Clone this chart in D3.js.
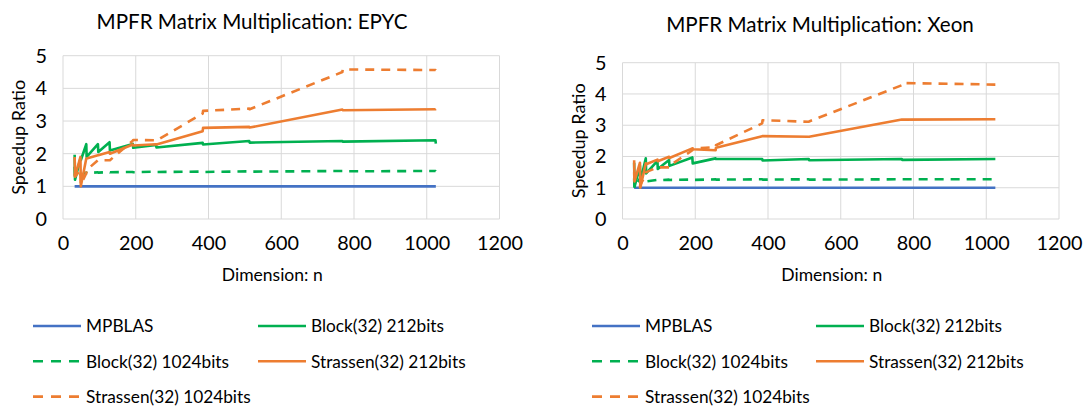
<!DOCTYPE html>
<html><head><meta charset="utf-8">
<script src="https://cdn.jsdelivr.net/npm/d3@7"></script>
<style>body{margin:0;background:#fff;} svg{display:block;}</style>
</head><body>
<svg id="c" width="1083" height="408"></svg>
<script>
const dims = [32, 33, 48, 49, 64, 65, 96, 97, 128, 129, 192, 193, 256, 257, 384, 385, 512, 513, 768, 769, 1024, 1025];
const seriesNames = ["MPBLAS", "Block(32) 212bits", "Block(32) 1024bits", "Strassen(32) 212bits", "Strassen(32) 1024bits"];
const xTicks = [0, 200, 400, 600, 800, 1000, 1200];
const yTicks = [0, 1, 2, 3, 4, 5];

const epycMPBLAS = [1,1,1,1,1,1,1,1,1,1,1,1,1,1,1,1,1,1,1,1,1,1];
const epycBlock212 = [1.97,1.2,1.85,1.8,2.29,1.9,2.29,2.05,2.35,2.1,2.3,2.18,2.27,2.19,2.33,2.28,2.39,2.34,2.39,2.37,2.41,2.31];
const epycBlock1024 = [1.6,1.3,1.4,1.35,1.42,1.4,1.43,1.42,1.44,1.43,1.44,1.43,1.45,1.44,1.45,1.44,1.46,1.45,1.47,1.46,1.47,1.46];
const epycStrassen212 = [1.9,1.3,1.9,1.0,1.85,1.85,1.95,1.95,2.05,2.0,2.28,2.25,2.29,2.28,2.69,2.79,2.82,2.8,3.35,3.33,3.36,3.37];
const epycStrassen1024 = [1.4,1.3,1.5,1.05,1.4,1.5,1.8,1.8,1.8,1.8,2.4,2.42,2.41,2.4,3.23,3.31,3.38,3.36,4.5,4.58,4.56,4.55];

const xeonMPBLAS = [1,1,1,1,1,1,1,1,1,1,1,1,1,1,1,1,1,1,1,1,1,1];
const xeonBlock212 = [1.8,1.03,1.7,1.2,1.94,1.46,1.86,1.6,1.89,1.7,1.97,1.78,1.94,1.92,1.92,1.87,1.92,1.88,1.92,1.89,1.92,1.92];
const xeonBlock1024 = [1.3,1.0,1.3,1.2,1.25,1.2,1.25,1.24,1.26,1.25,1.26,1.25,1.27,1.26,1.27,1.26,1.27,1.26,1.27,1.27,1.27,1.27];
const xeonStrassen212 = [1.88,1.2,1.8,1.0,1.78,1.75,1.9,1.85,1.99,1.95,2.26,2.23,2.2,2.28,2.65,2.65,2.63,2.63,3.18,3.18,3.19,3.19];
const xeonStrassen1024 = [1.5,1.2,1.03,1.1,1.4,1.5,1.65,1.65,1.65,1.7,2.2,2.25,2.3,2.36,3.06,3.16,3.11,3.12,4.28,4.35,4.3,4.3];

const colors = ["#4472C4", "#00B050", "#00B050", "#ED7D31", "#ED7D31"];
const dashes = [null, null, "9,7", null, "9,7"];
const FONT = "Lato, 'Open Sans', sans-serif";

const svg = d3.select("#c");

// font size that makes a sample string reach a target width
function fitSize(sample, targetW) {
  const t = svg.append("text").attr("font-family", FONT).attr("font-size", 100).text(sample);
  const w = t.node().getComputedTextLength();
  t.remove();
  return 100 * targetW / w;
}
const FS_TITLE = fitSize("MPFR Matrix Multiplication: EPYC", 311);
const FS_TICK = fitSize("1200", 46);
const FS_LEG = fitSize("Block(32) 1024bits", 143);
const FS_YT = fitSize("Speedup Ratio", 115);
const FS_XT = fitSize("Dimension: n", 101);

function drawChart(cfg) {
  const g = svg.append("g");
  const x = d3.scaleLinear().domain([0, 1200]).range([cfg.left, cfg.right]);
  const y = d3.scaleLinear().domain([0, 5]).range([cfg.bottom, cfg.top]);

  g.append("g").selectAll("line").data(xTicks).join("line")
    .attr("x1", d => x(d)).attr("x2", d => x(d))
    .attr("y1", y(0)).attr("y2", y(5))
    .attr("stroke", "#d9d9d9").attr("stroke-width", 1);
  g.append("g").selectAll("line").data(yTicks).join("line")
    .attr("x1", x(0)).attr("x2", x(1200))
    .attr("y1", d => y(d)).attr("y2", d => y(d))
    .attr("stroke", "#d9d9d9").attr("stroke-width", 1);

  const xa = g.append("g").attr("transform", `translate(0,${y(0)})`)
    .call(d3.axisBottom(x).tickValues(xTicks).tickSize(0).tickPadding(17).tickFormat(d3.format("d")));
  xa.select(".domain").remove();
  xa.selectAll("text").attr("font-family", FONT).attr("font-size", FS_TICK).attr("fill", "#000");
  const ya = g.append("g").attr("transform", `translate(${x(0)},0)`)
    .call(d3.axisLeft(y).tickValues(yTicks).tickSize(0).tickPadding(16).tickFormat(d3.format("d")));
  ya.select(".domain").remove();
  ya.selectAll("text").attr("font-family", FONT).attr("font-size", FS_TICK).attr("fill", "#000");

  g.append("text").attr("x", cfg.titleX).attr("y", cfg.titleY).attr("text-anchor", "middle")
    .attr("font-family", FONT).attr("font-size", FS_TITLE).attr("fill", "#000").text(cfg.title);
  g.append("text").attr("x", (x(0) + x(1200)) / 2 - 9).attr("y", 281).attr("text-anchor", "middle")
    .attr("font-family", FONT).attr("font-size", FS_XT).attr("fill", "#000").text("Dimension: n");
  g.append("text").attr("transform", `translate(${cfg.yTitleX},${(y(0) + y(5)) / 2}) rotate(-90)`)
    .attr("text-anchor", "middle").attr("font-family", FONT).attr("font-size", FS_YT).attr("fill", "#000")
    .text("Speedup Ratio");

  const line = d3.line().x(d => x(d[0])).y(d => y(d[1]));
  cfg.series.forEach((vals, i) => {
    g.append("path").datum(dims.map((n, k) => [n, vals[k]]))
      .attr("d", line).attr("fill", "none")
      .attr("stroke", colors[i]).attr("stroke-width", 2.6)
      .attr("stroke-dasharray", dashes[i])
      .attr("stroke-linejoin", "round");
  });

  const lg = g.append("g");
  const pos = [[0, 0], [1, 0], [0, 1], [1, 1], [0, 2]];
  seriesNames.forEach((name, i) => {
    const lx = cfg.legX[pos[i][0]], ly = cfg.legY + pos[i][1] * 35.3;
    lg.append("line").attr("x1", lx).attr("x2", lx + 48).attr("y1", ly).attr("y2", ly)
      .attr("stroke", colors[i]).attr("stroke-width", 2.6).attr("stroke-dasharray", dashes[i] ? "10,8" : null);
    lg.append("text").attr("x", lx + 53).attr("y", ly).attr("dy", "0.36em")
      .attr("font-family", FONT).attr("font-size", FS_LEG).attr("fill", "#000").text(name);
  });
}

drawChart({
  left: 63, right: 499.5, top: 55.7, bottom: 219,
  title: "MPFR Matrix Multiplication: EPYC", titleX: 252, titleY: 29,
  yTitleX: 25, legX: [33, 258], legY: 326,
  series: [epycMPBLAS, epycBlock212, epycBlock1024, epycStrassen212, epycStrassen1024]
});
drawChart({
  left: 622.5, right: 1059, top: 62.7, bottom: 219,
  title: "MPFR Matrix Multiplication: Xeon", titleX: 820, titleY: 32,
  yTitleX: 585, legX: [592, 816], legY: 326,
  series: [xeonMPBLAS, xeonBlock212, xeonBlock1024, xeonStrassen212, xeonStrassen1024]
});
</script>
</body></html>
